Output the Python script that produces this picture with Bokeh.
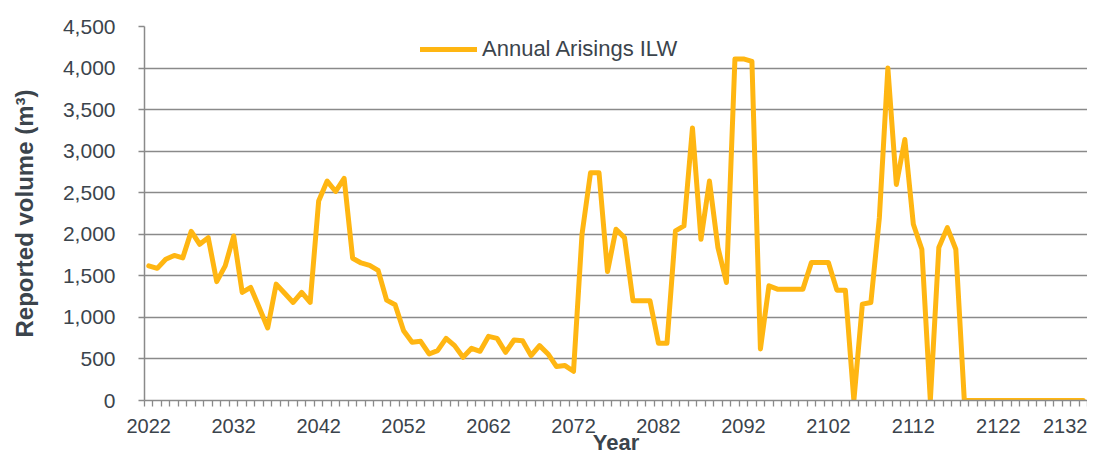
from bokeh.plotting import figure
from bokeh.models import (ColumnDataSource, FixedTicker, NumeralTickFormatter,
                          Legend, LegendItem, Range1d)
from bokeh.embed import file_html
from bokeh.resources import INLINE

# ---- data -------------------------------------------------------------
years = list(range(2022, 2133))
volumes = [
    1620, 1590, 1700, 1745, 1715, 2035, 1880, 1960, 1430, 1620,   # 2022-2031
    1980, 1300, 1360, 1120, 872, 1400, 1290, 1180, 1300, 1180,    # 2032-2041
    2400, 2640, 2515, 2672, 1712, 1655, 1625, 1565, 1208, 1152,   # 2042-2051
    840, 700, 712, 560, 600, 748, 660, 520, 628, 592,             # 2052-2061
    772, 748, 580, 728, 720, 540, 660, 560, 408, 420,             # 2062-2071
    352, 2000, 2740, 2740, 1552, 2060, 1960, 1200, 1200, 1200,    # 2072-2081
    688, 688, 2040, 2100, 3280, 1940, 2640, 1840, 1420, 4110,     # 2082-2091
    4110, 4080, 620, 1380, 1340, 1340, 1340, 1340, 1660, 1660,    # 2092-2101
    1660, 1328, 1328, 0, 1160, 1180, 2200, 4000, 2600, 3140,      # 2102-2111
    2120, 1820, 0, 1840, 2080, 1820, 0, 0, 0, 0,                  # 2112-2121
    0, 0, 0, 0, 0, 0, 0, 0, 0, 0, 0,                              # 2122-2132
]
label_years = [2022, 2032, 2042, 2052, 2062, 2072, 2082, 2092, 2102, 2112, 2122, 2132]
y_ticks = [0, 500, 1000, 1500, 2000, 2500, 3000, 3500, 4000, 4500]
series_name = "Annual Arisings ILW"
x_title = "Year"
y_title = "Reported volume (m³)"

src = ColumnDataSource(dict(year=years, volume=volumes))

TEXT = "#3b444c"
GRID = "#8a8a8a"
FONT = "Liberation Sans"

p = figure(width=1087, height=457, output_backend="svg", toolbar_location=None,
           x_range=Range1d(years[0] - 0.5, years[-1] + 0.5),
           y_range=Range1d(0, 4500),
           min_border_left=144, min_border_right=0,
           min_border_top=26, min_border_bottom=57)
p.outline_line_color = None
p.background_fill_color = "white"

r = p.line(x="year", y="volume", source=src, line_color="#FFB612",
           line_width=5, line_join="round", line_cap="round")

# x axis (category-style: ticks between years)
xa = p.xaxis[0]
xa.ticker = FixedTicker(ticks=label_years,
                        minor_ticks=[y - 0.5 for y in years] + [years[-1] + 0.5])
xa.major_tick_out = 0
xa.major_tick_in = 0
xa.minor_tick_out = 6
xa.minor_tick_in = 0
xa.minor_tick_line_color = GRID
xa.minor_tick_line_width = 1.3
xa.axis_line_color = GRID
xa.axis_line_width = 1.5
xa.major_label_text_font = FONT
xa.major_label_text_font_size = "20px"
xa.major_label_text_color = TEXT
xa.major_label_standoff = 12
xa.axis_label = x_title
xa.axis_label_text_font = FONT
xa.axis_label_text_font_size = "22px"
xa.axis_label_text_font_style = "bold"
xa.axis_label_text_color = TEXT
xa.axis_label_standoff = -6

# y axis
ya = p.yaxis[0]
ya.ticker = FixedTicker(ticks=y_ticks)
ya.formatter = NumeralTickFormatter(format="0,0")
ya.major_tick_out = 6
ya.major_tick_in = 0
ya.minor_tick_out = 0
ya.minor_tick_in = 0
ya.major_tick_line_color = GRID
ya.major_tick_line_width = 1.3
ya.axis_line_color = GRID
ya.axis_line_width = 1.5
ya.major_label_text_font = FONT
ya.major_label_text_font_size = "21px"
ya.major_label_text_color = TEXT
ya.major_label_standoff = 23
ya.axis_label = y_title
ya.axis_label_text_font = FONT
ya.axis_label_text_font_size = "24px"
ya.axis_label_text_font_style = "bold"
ya.axis_label_text_color = TEXT
ya.axis_label_standoff = 22

p.xgrid.visible = False
p.ygrid.ticker = FixedTicker(ticks=y_ticks)
p.ygrid.grid_line_color = GRID
p.ygrid.grid_line_width = 1.3

legend = Legend(items=[LegendItem(label=series_name, renderers=[r])],
                location=(276, 338), orientation="horizontal",
                padding=0, margin=0, spacing=0,
                glyph_width=57, glyph_height=24, label_height=24,
                label_standoff=5,
                label_text_font=FONT, label_text_font_size="22px",
                label_text_color=TEXT,
                background_fill_alpha=0, border_line_alpha=0)
p.add_layout(legend, "center")

open("out.html", "w").write(file_html(p, INLINE))
